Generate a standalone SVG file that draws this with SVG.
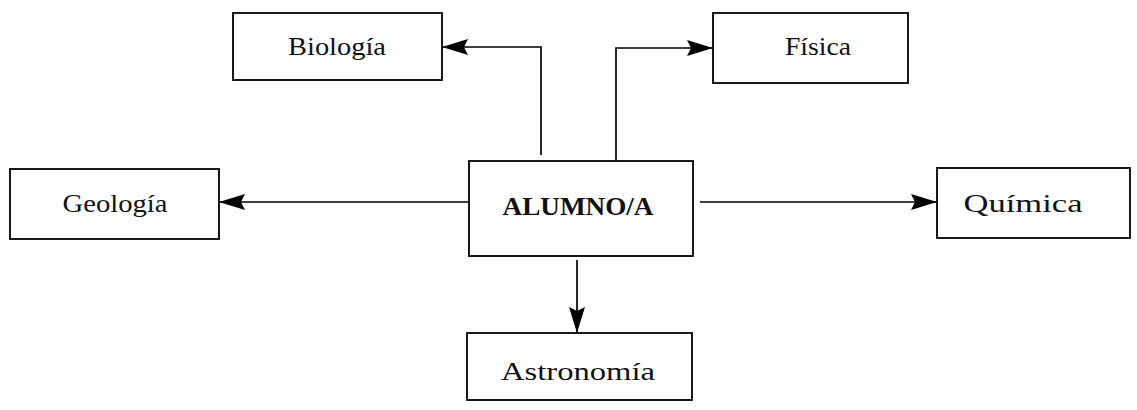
<svg xmlns="http://www.w3.org/2000/svg" width="1137" height="410" viewBox="0 0 1137 410">
<defs>
<marker id="ah" markerWidth="26" markerHeight="18" refX="26" refY="9" orient="auto" markerUnits="userSpaceOnUse">
<path d="M0,1 L26,9 L0,17 L4,9 Z" fill="#000"/>
</marker>
</defs>
<style>
.box{fill:#fff;stroke:#000;stroke-width:1.8}
.t{font-family:"Liberation Serif","DejaVu Serif",serif;font-size:25px;fill:#111;text-anchor:middle}
.b{font-weight:bold}
.c{fill:none;stroke:#000;stroke-width:1.7}
</style>
<rect width="1137" height="410" fill="#fff"/>
<g id="connectors">
<path class="c" d="M541,155 V47 H442" marker-end="url(#ah)"/>
<path class="c" d="M616,162 V48 H713" marker-end="url(#ah)"/>
<path class="c" d="M475,202 H219" marker-end="url(#ah)"/>
<path class="c" d="M700,202 H937" marker-end="url(#ah)"/>
<path class="c" d="M577,260 V333" marker-end="url(#ah)"/>
</g>
<g id="biologia">
<rect class="box" x="233" y="13" width="209" height="67"/>
<text class="t" x="337" y="55" textLength="98" lengthAdjust="spacingAndGlyphs">Biología</text>
</g>
<g id="fisica">
<rect class="box" x="713" y="13" width="195" height="70"/>
<text class="t" x="818" y="55" textLength="66" lengthAdjust="spacingAndGlyphs">Física</text>
</g>
<g id="geologia">
<rect class="box" x="10" y="169" width="209" height="70"/>
<text class="t" x="115" y="212" textLength="105" lengthAdjust="spacingAndGlyphs">Geología</text>
</g>
<g id="alumno">
<rect class="box" x="469" y="161" width="224" height="95"/>
<text class="t b" x="578" y="215" textLength="151" lengthAdjust="spacingAndGlyphs">ALUMNO/A</text>
</g>
<g id="quimica">
<rect class="box" x="937" y="168" width="193" height="70"/>
<text class="t" x="1023" y="212" textLength="119" lengthAdjust="spacingAndGlyphs">Química</text>
</g>
<g id="astronomia">
<rect class="box" x="467" y="333" width="225" height="67"/>
<text class="t" x="578" y="380" textLength="154" lengthAdjust="spacingAndGlyphs">Astronomía</text>
</g>
</svg>
